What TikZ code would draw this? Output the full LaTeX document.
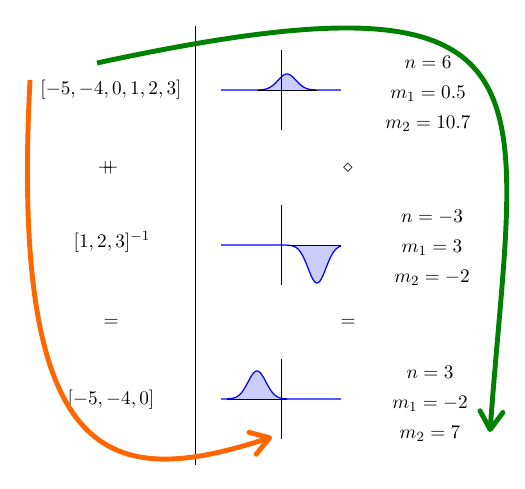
\documentclass[tikz,border=0pt]{standalone}
\usetikzlibrary{arrows.meta, positioning}
\definecolor{bell}    {HTML}{0000FF}
\definecolor{bellfill}{HTML}{CCCCFF}
\definecolor{fwd}     {HTML}{008000}
\definecolor{back}    {HTML}{FF6600}

\begin{document}
\begin{tikzpicture}[
  x=0.02cm, y=-0.02cm,
  every node/.style={font=\fontsize{11.2}{13.5}\selectfont},
  lst/.style ={inner sep=1pt},
  op/.style  ={inner sep=1pt},
  stat/.style={align=center, inner sep=1pt},
  ax/.style  ={draw=black, line width=0.5pt},
  crv/.style ={draw=bell, line width=0.7pt},
  sweep/.style={line width=2.8pt,
    -{Straight Barb[length=3.6mm, width=4.6mm, round]}},
]
  \useasboundingbox (0,0) rectangle (525,489);

  % --- divider between the lists and the plots -----------------
  \draw[ax] (195,26) -- (195,465);

  % --- left column: the lists ----------------------------------
  \node[lst] (lsta) at (111,90)  {$[-5,-4,0,1,2,3]$};
  \node[op]  (cat)  at (108,168) {$+\mkern-9mu+$};
  \node[lst] (lstb) at (112,242) {$[1,2,3]^{-1}$};
  \node[op]  (eql)  at (111,323) {$=$};
  \node[lst] (lstc) at (111,400) {$[-5,-4,0]$};

  % --- middle column: one bell per list -------------------------
  \foreach \yy/\m/\pk/\lo/\hi in {90/6/-16/-24/36, 245/36/38/6/60, 399/-24/-28/-54/6}{
    \begin{scope}[shift={(281,\yy)}]
      \fill[bellfill] plot[domain=\lo:\hi, samples=40]
        (\x, {\pk*exp(-((\x-(\m))^2)/162)}) -- cycle;
      \draw[ax] (0,-40) -- (0,40);
      \draw[crv] plot[domain=-60:60, samples=120]
        (\x, {\pk*exp(-((\x-(\m))^2)/162)});
      \draw[ax] (\lo,0) -- (\hi,0);
    \end{scope}
  }
  \node[op] (dia) at (348,168) {$\diamond$};
  \node[op] (eqr) at (348,323) {$=$};

  % --- right column: count and moments --------------------------
  \node[stat] (sta) at (428,94)  {$n=6$\\[3.7pt]$m_1=0.5$\\[3.7pt]$m_2=10.7$};
  \node[stat] (stb) at (432,248) {$n=-3$\\[3.7pt]$m_1=3$\\[3.7pt]$m_2=-2$};
  \node[stat] (stc) at (430,404) {$n=3$\\[3.7pt]$m_1=-2$\\[3.7pt]$m_2=7$};

  % --- the two sweeps -------------------------------------------
  \coordinate (gsrc) at (97,63);
  \coordinate (gdst) at (490,432);
  \draw[sweep, draw=fwd] (gsrc) .. controls (575,-40) and (515,85) .. (gdst);
  \coordinate (osrc) at (30,80);
  \coordinate (odst) at (272,437);
  \draw[sweep, draw=back] (osrc) .. controls (10,470) and (110,490) .. (odst);
\end{tikzpicture}
\end{document}
